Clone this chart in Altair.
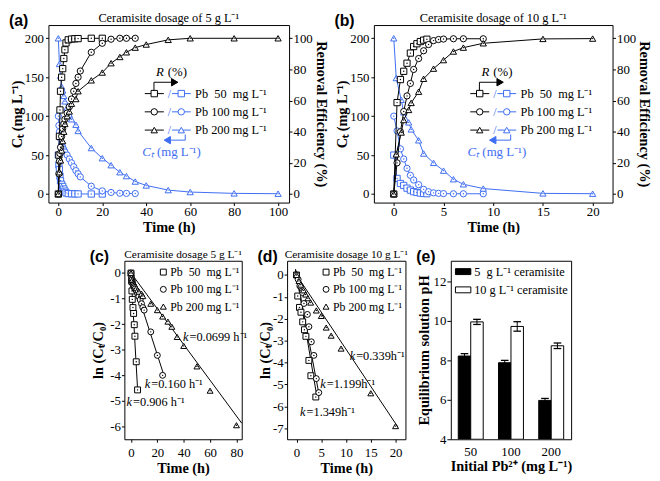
import altair as alt
import pandas as pd

# ---------------- data: (a) ceramisite 5 g/L ----------------
T50a = [0, 0.25, 0.5, 0.75, 1, 1.5, 2, 2.5, 3, 3.5, 4.5, 6, 7.5, 9, 15, 20]
C50a = [50, 37.5, 31.5, 23, 17, 12.5, 9.7, 6.5, 3.7, 1.5, 0.5, 0.3, 0.2, 0.1, 0, 0]
R50a = [0, 25, 37, 54, 66, 75, 80.5, 87, 92.6, 97, 99, 99.5, 99.7, 99.8, 100, 100]
T100a = [0, 0.25, 0.5, 0.75, 1, 1.5, 2, 2.5, 3, 4, 5, 6, 7, 8, 9, 10, 15, 20, 24, 28, 31, 35]
C100a = [100, 88, 80, 75, 71, 64, 60, 57, 54, 50, 45, 40, 35, 30, 26, 22, 10, 4, 2, 1, 0.8, 0.6]
R100a = [0, 13, 21, 26, 30, 37, 42, 45, 48, 52, 56, 61, 66, 71, 75, 79, 91, 96.8, 99.4, 100, 100, 100]
T200a = [0, 0.5, 1, 1.5, 2, 2.5, 3, 4, 5, 6, 8, 9, 15, 20, 24, 28, 31, 35, 40, 50, 60, 80, 100]
C200a = [200, 167, 152, 138, 133, 126, 119, 111, 102, 96, 89, 81, 59, 46, 37, 28, 23, 16, 11, 5, 2.5, 0.8, 0.4]
R200a = [0, 14, 21.6, 28, 34, 40, 45, 50, 53, 58, 61, 66, 73, 78, 84, 88, 91, 94, 96, 99, 100, 100, 100]

# ---------------- data: (b) ceramisite 10 g/L ----------------
T50b = [0, 0.33, 0.67, 1, 1.33, 1.67, 2, 2.33, 2.67, 3, 3.33]
C50b = [50, 20, 13.5, 11, 7.5, 5, 3, 2, 1.2, 0.7, 0.4]
R50b = [0, 58.7, 73.5, 78.8, 84, 90.5, 94.7, 96.5, 97.9, 98.8, 99.4]
T100b = [0, 0.33, 0.67, 1, 1.33, 1.67, 2, 2.5, 3, 3.5, 4, 4.5, 5, 6, 7, 9]
C100b = [100, 81, 58, 45, 33, 24, 18, 12, 6, 3, 1.5, 0.8, 0.5, 0.3, 0.3, 0.3]
R100b = [0, 20, 40, 53, 63, 71, 80, 87, 92, 96, 98.5, 99.2, 99.5, 99.7, 99.7, 99.7]
T200b = [0, 0.25, 0.75, 1, 1.5, 1.75, 2.5, 3, 4, 5, 6, 7, 9, 15, 20]
C200b = [200, 149, 121, 105, 92, 83, 69, 52, 40, 30, 19, 12.5, 7, 0.8, 0.4]
R200b = [0, 25.5, 39.5, 47.5, 54, 58.5, 65.7, 74, 80.5, 86, 91.5, 94, 96.8, 99.6, 99.8]

# ---------------- data: (c) ln(Ct/C0), 5 g/L ----------------
Tc50 = [0, 0.5, 0.75, 1, 1.5, 2, 2.5, 3, 4, 5]
Lc50 = [0, -0.32, -0.7, -1.03, -1.35, -1.58, -2.02, -2.47, -3.47, -4.57]
Tc100 = [0, 0.25, 0.5, 0.75, 1, 1.5, 2, 2.5, 3, 4, 5, 6, 7, 8, 9, 10, 15, 20, 24]
Lc100 = [0, -0.13, -0.22, -0.29, -0.34, -0.45, -0.51, -0.56, -0.62, -0.69, -0.8, -0.92, -1.05, -1.2, -1.35, -1.45, -2.3, -3.22, -4.0]
Tc200 = [0, 0.5, 1, 1.5, 2, 2.5, 3, 4, 5, 6, 8, 9, 15, 20, 24, 28, 31, 35, 40, 50, 60, 80]
Lc200 = [0, -0.18, -0.27, -0.37, -0.41, -0.46, -0.52, -0.59, -0.67, -0.73, -0.81, -0.9, -1.2, -1.45, -1.7, -1.9, -2.1, -2.5, -2.85, -3.65, -4.6, -5.95]
kc = [0.906, 0.160, 0.0699]
kc_range = [(0, 5.1), (0, 24.5), (0, 84)]
kc_labels = ["=0.906 h⁻¹", "=0.160 h⁻¹", "=0.0699 h⁻¹"]
kc_pos = [(-3.3, -5.04), (10.5, -4.33), (39.5, -2.52)]

# ---------------- data: (d) ln(Ct/C0), 10 g/L ----------------
Td50 = [0, 0.25, 0.6, 0.9, 1.25, 1.6, 1.9, 2.5, 2.9, 3.9]
Ld50 = [0, -0.96, -1.48, -1.7, -2.14, -2.5, -2.8, -3.9, -4.6, -5.57]
Td100 = [0, 0.33, 0.67, 1.2, 1.5, 2.2, 2.5, 3, 3.5, 4, 4.5]
Ld100 = [0, -0.2, -0.5, -0.8, -1.3, -1.8, -2.36, -3.05, -3.67, -4.73, -5.37]
Td200 = [0, 0.5, 0.85, 1.4, 1.85, 2.3, 2.85, 4, 5, 6, 7, 9, 15, 20]
Ld200 = [0, -0.27, -0.44, -0.7, -0.89, -1.06, -1.26, -1.62, -1.87, -2.4, -2.77, -3.36, -5.4, -6.9]
kd = [1.349, 1.199, 0.339]
kd_range = [(-0.2, 4.2), (-0.2, 4.5), (-0.2, 20.5)]
kd_labels = ["=1.349h⁻¹", "=1.199h⁻¹", "=0.339h⁻¹"]
kd_pos = [(0.73, -6.25), (4.8, -4.99), (10.75, -3.72)]

# ---------------- data: (e) equilibrium pH ----------------
conc_e = ["50", "100", "200"]
groups_e = ["5 g/L", "10 g/L"]
ph_5 = [8.22, 7.88, 5.97]
err_5 = [0.12, 0.12, 0.10]
ph_10 = [9.95, 9.72, 8.74]
err_10 = [0.13, 0.24, 0.14]

series_labels = ["Pb\u00a0 50\u00a0 mg L⁻¹", "Pb 100 mg L⁻¹", "Pb 200 mg L⁻¹"]
shapes = ["square", "circle", "triangle-up"]

SERIF = "Liberation Serif"
SANS = "Liberation Sans"
BLUE = "#3d6df2"
ONE = pd.DataFrame({"one": [0]})
NEG = "datum.value < 0 ? '-' + abs(datum.value) : '' + datum.value"


def ax(**kw):
    base = dict(labelFont=SERIF, titleFont=SERIF, labelFontSize=13, titleFontSize=14.5,
                titleFontWeight="bold", labelColor="black", titleColor="black",
                tickColor="black", grid=False, domain=False)
    base.update(kw)
    return alt.Axis(**base)


def vpoint(x, y, shape, color, size=42, fill="white"):
    return alt.Chart(ONE).mark_point(shape=shape, filled=True, fill=fill, stroke=color,
                                     strokeWidth=1, size=size, opacity=1).encode(
        x=alt.value(x), y=alt.value(y))


def vhline(x1, x2, y, color):
    return alt.Chart(ONE).mark_rule(color=color, strokeWidth=1).encode(
        x=alt.value(x1), x2=alt.value(x2), y=alt.value(y))


def vvline(x, y1, y2, color):
    return alt.Chart(ONE).mark_rule(color=color, strokeWidth=1).encode(
        x=alt.value(x), y=alt.value(y1), y2=alt.value(y2))


def vtext(x, y, text, color="black", size=12.5, align="left", font=SERIF,
          weight="normal", style="normal"):
    return alt.Chart(ONE).mark_text(text=text, color=color, fontSize=size, align=align,
                                    baseline="middle", font=font, fontWeight=weight,
                                    fontStyle=style).encode(x=alt.value(x), y=alt.value(y))


def vrect(x1, x2, y1, y2, fill):
    return alt.Chart(ONE).mark_rect(fill=fill, stroke="black", strokeWidth=1).encode(
        x=alt.value(x1), x2=alt.value(x2), y=alt.value(y1), y2=alt.value(y2))


def series_layers(t, v, field, shape, color, xenc, yenc, size=40, line=True):
    df = pd.DataFrame({"t": t, field: v})
    base = alt.Chart(df).encode(x=xenc, y=yenc)
    out = []
    if line:
        out.append(base.mark_line(color=color, strokeWidth=1))
    out.append(base.mark_point(shape=shape, filled=True, fill="white", stroke=color,
                               strokeWidth=1, size=size, opacity=1))
    out.append(base.mark_point(shape="circle", filled=True, color=color, size=2, opacity=1))
    return out


def kinetic_legend(letter, title, width):
    L = [vtext(-40, -4, letter, size=16, font=SANS, weight="bold"),
         vtext(width / 2, -7, title, size=12.5, align="center"),
         vtext(109, 48, "R", size=13, style="italic"),
         vtext(121, 48, "(%)", size=13),
         vvline(107, 58, 68, "black"),
         vhline(107, 125, 58, "black"),
         vpoint(128, 58, "triangle-right", "black", size=55, fill="black")]
    for y, shape, lab in zip([69.5, 88, 106.5], shapes, series_labels):
        L += [vhline(97.7, 117, y, "black"),
              vpoint(107.3, y, shape, "black"),
              vtext(122.7, y, "/", color=BLUE, align="center", size=12),
              vhline(125.3, 144.3, y, BLUE),
              vpoint(134.7, y, shape, BLUE),
              vtext(148.7, y, lab, size=12.5)]
    L += [vvline(138.7, 111, 116.7, BLUE),
          vhline(123, 138.7, 116.7, BLUE),
          vpoint(120.5, 116.7, "triangle-left", BLUE, size=55, fill=BLUE),
          vtext(95, 128.3, "Cₜ", color=BLUE, size=13, style="italic"),
          vtext(110, 128.3, "(mg L⁻¹)", color=BLUE, size=13)]
    return L


def kinetic_panel(sets, xdom, xticks, title, letter, width, height):
    xenc = alt.X("t:Q", scale=alt.Scale(domain=xdom, nice=False, zero=False),
                 axis=ax(values=xticks, title="Time (h)", tickSize=3, labelPadding=0,
                         titlePadding=2))
    yC = alt.Y("C:Q", scale=alt.Scale(domain=[-11, 217], nice=False, zero=False),
               axis=ax(orient="left", values=[0, 50, 100, 150, 200], title="Cₜ (mg L⁻¹)",
                       tickSize=3, labelPadding=2, titlePadding=0))
    yR = alt.Y("R:Q", scale=alt.Scale(domain=[-5.5, 108.5], nice=False, zero=False),
               axis=ax(orient="right", values=[0, 20, 40, 60, 80, 100],
                       title="Removal Efficiency (%)", tickSize=3, labelPadding=1,
                       titlePadding=1))
    blue, black = [], []
    for (t, C, R), shape in zip(sets, shapes):
        blue += series_layers(t, C, "C", shape, BLUE, xenc, yC)
        black += series_layers(t, R, "R", shape, "black", xenc, yR)
    ch = alt.layer(alt.layer(*blue), alt.layer(*black),
                   *kinetic_legend(letter, title, width)).resolve_scale(y="independent")
    return ch.properties(width=width, height=height)


def log_panel(sets, ks, kranges, klabels, kpos, xdom, xticks, ydom, title, letter,
              width, height, ytitle_pad, leg):
    xenc = alt.X("t:Q", scale=alt.Scale(domain=xdom, nice=False, zero=False),
                 axis=ax(values=xticks, title="Time (h)", tickSize=3, labelPadding=4,
                         titlePadding=3))
    yenc = alt.Y("L:Q", scale=alt.Scale(domain=ydom, nice=False, zero=False),
                 axis=ax(values=list(range(0, -8, -1)), title="ln (Cₜ/C₀)", tickSize=3,
                         labelPadding=1, titlePadding=ytitle_pad, labelExpr=NEG))
    layers = []
    for k, (t0, t1) in zip(ks, kranges):
        df = pd.DataFrame({"t": [t0, t1], "L": [-k * t0, -k * t1]})
        layers.append(alt.Chart(df).mark_line(color="black", strokeWidth=1).encode(x=xenc, y=yenc))
    for (t, Lv), shape in zip(sets, shapes):
        layers += series_layers(t, Lv, "L", shape, "black", xenc, yenc, size=36, line=False)
    for lab, (px, py) in zip(klabels, kpos):
        df = pd.DataFrame({"t": [px], "L": [py], "lab": [lab]})
        b = alt.Chart(df).encode(x=xenc, y=yenc)
        layers.append(b.mark_text(text="k", fontStyle="italic", font=SERIF, fontSize=12.5,
                                  align="left", baseline="middle", color="black"))
        layers.append(b.mark_text(font=SERIF, fontSize=12.5, align="left", baseline="middle",
                                  color="black", dx=6.5).encode(text="lab:N"))
    lx, tx, ys = leg
    for y, shape, lab in zip(ys, shapes, series_labels):
        layers += [vpoint(lx, y, shape, "black", size=36), vtext(tx, y, lab, size=12)]
    layers.append(vtext(letter[1], -4, letter[0], size=16, font=SANS, weight="bold"))
    layers.append(vtext(width / 2, -6, title, size=11.5, align="center"))
    return alt.layer(*layers).properties(width=width, height=height)


# ---------------- panels ----------------
panel_a = kinetic_panel([(T50a, C50a, R50a), (T100a, C100a, R100a), (T200a, C200a, R200a)],
                        [-4.5, 105], [0, 20, 40, 60, 80, 100],
                        "Ceramisite dosage of 5 g L⁻¹", "(a)", 244, 180)
panel_b = kinetic_panel([(T50b, C50b, R50b), (T100b, C100b, R100b), (T200b, C200b, R200b)],
                        [-2, 22], [0, 5, 10, 15, 20],
                        "Ceramisite dosage of 10 g L⁻¹", "(b)", 242, 180)

panel_c = log_panel([(Tc50, Lc50), (Tc100, Lc100), (Tc200, Lc200)], kc, kc_range, kc_labels,
                    kc_pos, [-5, 84], [0, 20, 40, 60, 80], [-6.5, 0.48],
                    "Ceramisite dosage 5 g L⁻¹", ("(c)", -35), 119, 181, 4,
                    (39.5, 46.5, [11.5, 29, 46.5]))
panel_d = log_panel([(Td50, Ld50), (Td100, Ld100), (Td200, Ld200)], kd, kd_range, kd_labels,
                    kd_pos, [-1.9, 22], [0, 5, 10, 15, 20], [-7.5, 0.65],
                    "Ceramisite dosage 10 g L⁻¹", ("(d)", -30), 120, 181, 0,
                    (39.5, 46.5, [11.5, 29, 46.5]))

# (e) bars
df_e = pd.DataFrame({
    "conc": conc_e + conc_e,
    "grp": [groups_e[0]] * 3 + [groups_e[1]] * 3,
    "ph": ph_5 + ph_10,
    "err": err_5 + err_10,
})
df_e["lo"] = df_e["ph"] - df_e["err"]
df_e["hi"] = df_e["ph"] + df_e["err"]
E_H = 181
xE = alt.X("conc:N", sort=conc_e, scale=alt.Scale(paddingInner=0.38, paddingOuter=0.185),
           axis=ax(title="Initial Pb²⁺ (mg L⁻¹)", labelAngle=0, ticks=False,
                   labelPadding=6, titlePadding=2))
xoE = alt.XOffset("grp:N", sort=groups_e, scale=alt.Scale(paddingInner=0, paddingOuter=0))
yscaleE = alt.Scale(domain=[4, 13.05], nice=False, zero=False)
yaxE = ax(values=[4, 6, 8, 10, 12], title="Equilibrium solution pH", tickSize=4,
          labelPadding=1, titlePadding=2)
baseE = alt.Chart(df_e)
bars = baseE.mark_bar(stroke="black", strokeWidth=1, clip=True).encode(
    x=xE, xOffset=xoE,
    y=alt.Y("ph:Q", scale=yscaleE, axis=yaxE), y2=alt.datum(4),
    fill=alt.Fill("grp:N", scale=alt.Scale(domain=groups_e, range=["black", "white"]), legend=None))
errs = baseE.mark_rule(color="black", strokeWidth=1).encode(
    x=xE, xOffset=xoE, y=alt.Y("lo:Q", scale=yscaleE, axis=yaxE), y2="hi:Q")
cap_hi = baseE.mark_point(shape="stroke", size=60, color="black", strokeWidth=1.3, opacity=1).encode(
    x=xE, xOffset=xoE, y=alt.Y("hi:Q", scale=yscaleE, axis=yaxE))
cap_lo = baseE.mark_point(shape="stroke", size=60, color="black", strokeWidth=1.3, opacity=1).encode(
    x=xE, xOffset=xoE, y=alt.Y("lo:Q", scale=yscaleE, axis=yaxE))
leg_e = [vrect(4.7, 20.3, 8, 14, "black"), vtext(23.7, 11, "5\u00a0 g L⁻¹ ceramisite", size=12.5),
         vrect(4.7, 20.3, 26.5, 32.5, "white"), vtext(23.7, 29.5, "10 g L⁻¹ ceramisite", size=12.5),
         vtext(-35, -4, "(e)", size=16, font=SANS, weight="bold")]
panel_e = alt.layer(bars, errs, cap_hi, cap_lo, *leg_e).properties(width=122, height=E_H)

spacer = alt.Chart(ONE).mark_point(opacity=0).encode(x=alt.value(0), y=alt.value(0)).properties(
    width=31, height=181, view=alt.ViewBackground(stroke="transparent"))

row1 = alt.hconcat(panel_a, panel_b, spacing=86, bounds="flush")
row2 = alt.hconcat(spacer, panel_c, panel_d, panel_e, spacing=46, bounds="flush")

chart = alt.vconcat(row1, row2, spacing=14).properties(
    padding={"left": 0, "top": 0, "right": 0, "bottom": 0}
).configure_view(stroke="black", strokeWidth=1).configure_axis(
    grid=False, domain=False, labelFont=SERIF, titleFont=SERIF
)

chart.save("out.html", embed_options={"renderer": "svg", "actions": False})
